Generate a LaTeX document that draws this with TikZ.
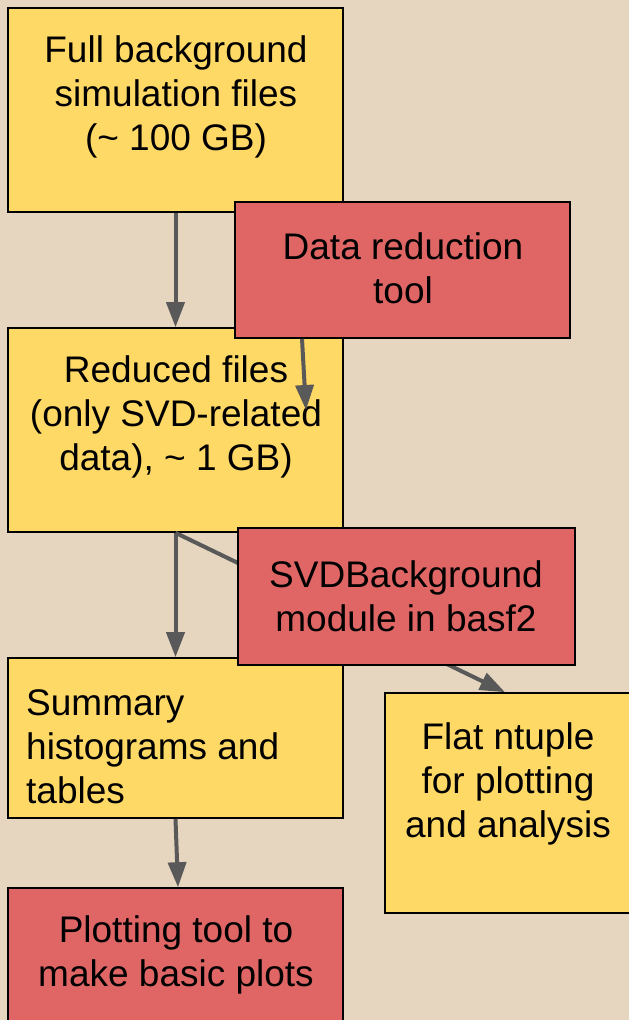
\documentclass[tikz,border=0pt]{standalone}
\usepackage{fontspec}
\setmainfont{Liberation Sans}
\usepackage{xcolor}
\usetikzlibrary{arrows.meta, positioning, calc}
\definecolor{bgcolor}{RGB}{230,214,191}
\definecolor{datacolor}{RGB}{255,217,102}
\definecolor{toolcolor}{RGB}{224,102,102}
\definecolor{arrowcolor}{RGB}{89,89,89}

\begin{document}
\begin{tikzpicture}[
    x=1pt, y=-1pt,
    databox/.style={rectangle, draw=black, line width=1.6pt, fill=datacolor, minimum width=335pt, inner sep=0pt},
    toolbox/.style={rectangle, draw=black, line width=1.6pt, fill=toolcolor, minimum width=335pt, inner sep=0pt},
    boxtext/.style={align=center, inner sep=0pt, font=\fontsize{37}{44}\selectfont},
    arrow/.style={-{Triangle[length=25pt, width=18pt]}, line width=4pt, draw=arrowcolor}
]
\clip (0,0) rectangle (629,1020);
\fill[bgcolor] (0,0) rectangle (629,1020);

% data products
\node[databox, minimum height=204pt] (full) at (175.5,110) {};
\node[boxtext] (fulltext) at (176,97) {Full background\\simulation files\\(\textasciitilde{} 100 GB)};
\node[databox, minimum height=204pt] (reduced) at (175.5,430) {};
\node[boxtext] (reducedtext) at (176,417) {Reduced files\\(only SVD-related\\data), \textasciitilde{} 1 GB)};
\node[databox, minimum height=160pt] (summary) at (175.5,738) {};
\node[boxtext, align=left, anchor=west] (summarytext) at (26,747) {Summary\\histograms and\\tables};
\node[databox, minimum width=255pt, minimum height=220pt] (ntuple) at (512.5,803) {};
\node[boxtext] (ntupletext) at (508,784) {Flat ntuple\\for plotting\\and analysis};
\node[toolbox, minimum height=152pt] (plotting) at (175.5,964) {};
\node[boxtext] (plottingtext) at (176,955) {Plotting tool to\\make basic plots};

% passes behind the module box
\draw[arrow] (reduced.south) -- ([xshift=-7.5pt]ntuple.north);

% tools
\node[toolbox, minimum height=136pt] (datared) at (402.5,270) {};
\node[boxtext] (dataredtext) at (403,268) {Data reduction\\tool};
\node[toolbox, minimum width=337pt, minimum height=137pt] (module) at (406.5,596.5) {};
\node[boxtext] (moduletext) at (406,596) {SVDBackground\\module in basf2};

\coordinate (redin) at (306,410);
\draw[arrow] (full.south) -- (reduced.north);
\draw[arrow] ([xshift=-100.5pt]datared.south) -- (redin);
\draw[arrow] (reduced.south) -- (summary.north);
\draw[arrow] (summary.south) -- ([xshift=2.5pt]plotting.north);
\end{tikzpicture}
\end{document}
